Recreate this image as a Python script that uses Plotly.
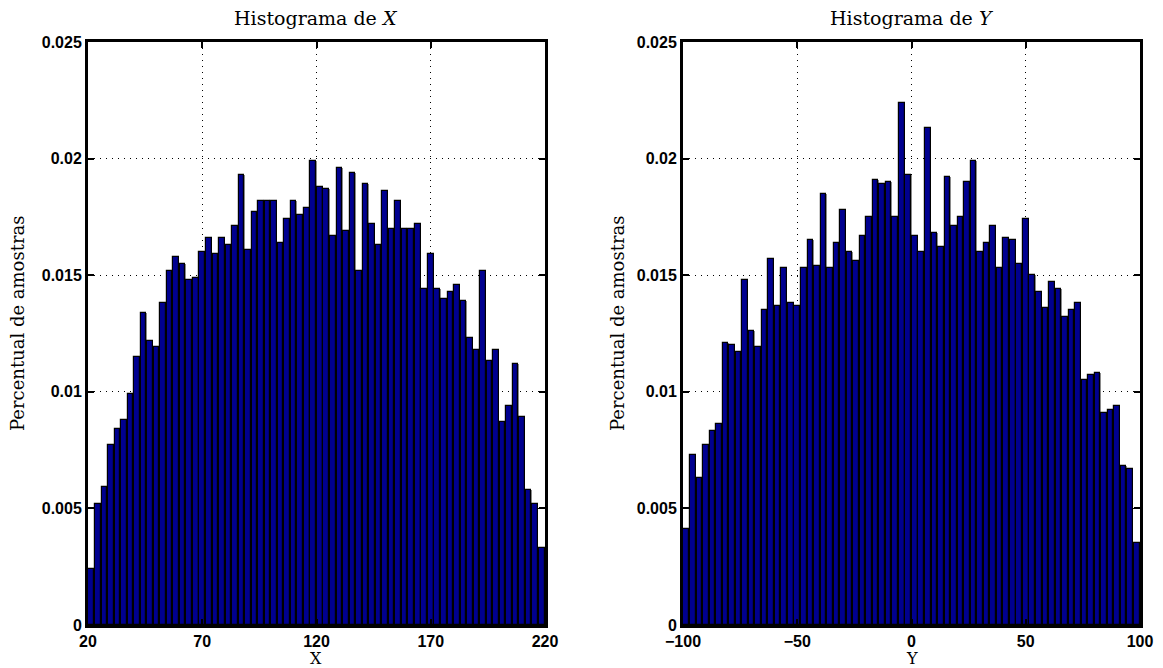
import numpy as np
import plotly.graph_objects as go

# Histogram bin heights (fraction of samples), 70 bins each
x_freq = [0.0024, 0.0052, 0.0059, 0.0077, 0.0084, 0.0088, 0.0099, 0.0115, 0.0134, 0.0122,
          0.0119, 0.0138, 0.0152, 0.0158, 0.0155, 0.0148, 0.0149, 0.0160, 0.0166, 0.0159,
          0.0166, 0.0163, 0.0171, 0.0193, 0.0161, 0.0177, 0.0182, 0.0182, 0.0182, 0.0164,
          0.0174, 0.0182, 0.0176, 0.0179, 0.0199, 0.0188, 0.0187, 0.0167, 0.0196, 0.0169,
          0.0194, 0.0152, 0.0189, 0.0172, 0.0163, 0.0186, 0.0170, 0.0182, 0.0170, 0.0170,
          0.0172, 0.0144, 0.0159, 0.0144, 0.0140, 0.0143, 0.0146, 0.0139, 0.0123, 0.0118,
          0.0152, 0.0113, 0.0118, 0.0087, 0.0094, 0.0112, 0.0089, 0.0058, 0.0052, 0.0033]

y_freq = [0.0041, 0.0073, 0.0063, 0.0077, 0.0083, 0.0086, 0.0121, 0.0120, 0.0117, 0.0148,
          0.0126, 0.0119, 0.0135, 0.0157, 0.0137, 0.0153, 0.0138, 0.0137, 0.0153, 0.0165,
          0.0154, 0.0185, 0.0153, 0.0164, 0.0178, 0.0160, 0.0156, 0.0167, 0.0175, 0.0191,
          0.0189, 0.0190, 0.0175, 0.0224, 0.0193, 0.0167, 0.0160, 0.0213, 0.0168, 0.0162,
          0.0192, 0.0171, 0.0175, 0.0190, 0.0199, 0.0160, 0.0164, 0.0171, 0.0153, 0.0166,
          0.0165, 0.0155, 0.0174, 0.0150, 0.0143, 0.0136, 0.0147, 0.0144, 0.0132, 0.0135,
          0.0138, 0.0105, 0.0107, 0.0108, 0.0091, 0.0092, 0.0094, 0.0068, 0.0067, 0.0035]

x_range = [20, 220]
y_range = [-100, 100]
x_ticks = [20, 70, 120, 170, 220]
y_ticks = [-100, -50, 0, 50, 100]
freq_ticks = [0, 0.005, 0.01, 0.015, 0.02, 0.025]
freq_labels = ["0", "0.005", "0.01", "0.015", "0.02", "0.025"]

W, H = 1163, 668
BAR = "#00008f"
SERIF = "DejaVu Serif"
SANS = "Liberation Sans"


def centers(rng, n):
    w = (rng[1] - rng[0]) / n
    return rng[0] + w * (np.arange(n) + 0.5), w


fig = go.Figure()

panels = [
    (x_freq, x_range, "x", "y"),
    (y_freq, y_range, "x2", "y2"),
]
for freq, rng, xa, ya in panels:
    c, w = centers(rng, len(freq))
    # thin grey seam between adjacent bars
    fig.add_trace(go.Bar(x=c, y=freq, width=w, marker=dict(color="#8a8a8a", line=dict(width=0)),
                         xaxis=xa, yaxis=ya, showlegend=False, hoverinfo="skip"))
    fig.add_trace(go.Bar(x=c, y=freq, width=w * 0.86,
                         marker=dict(color=BAR, line=dict(color="black", width=1.2)),
                         xaxis=xa, yaxis=ya, showlegend=False))

ydom = [1 - 625 / H, 1 - 42 / H]
xdom1 = [88 / W, 545 / W]
xdom2 = [683 / W, 1140 / W]

tickfont = dict(family=SANS, size=16, color="black", weight="bold")
common_axis = dict(
    showline=True, linecolor="black", linewidth=3, mirror="allticks",
    ticks="inside", ticklen=6, tickwidth=2, tickcolor="black",
    showgrid=True, gridcolor="black", griddash="1px,5px", gridwidth=1,
    zeroline=False, tickfont=tickfont, automargin=False,
)

fig.update_layout(
    width=W, height=H,
    margin=dict(l=0, r=0, t=0, b=0),
    paper_bgcolor="white", plot_bgcolor="white",
    barmode="overlay", bargap=0,
    xaxis=dict(domain=xdom1, range=x_range, tickvals=x_ticks, anchor="y", ticklabelstandoff=0,
               **common_axis),
    yaxis=dict(domain=ydom, range=[0, 0.025], tickvals=freq_ticks, ticktext=freq_labels,
               anchor="x", **common_axis),
    xaxis2=dict(domain=xdom2, range=y_range, tickvals=y_ticks, anchor="y2", ticklabelstandoff=0,
                **common_axis),
    yaxis2=dict(domain=ydom, range=[0, 0.025], tickvals=freq_ticks, ticktext=freq_labels,
                anchor="x2", **common_axis),
)

title_font = dict(family=SERIF, size=19, color="black")
label_font = dict(family=SERIF, size=18, color="black")
ann = []
for dom, name in [(xdom1, "X"), (xdom2, "Y")]:
    mid = (dom[0] + dom[1]) / 2
    ann.append(dict(text=f"Histograma de <i>{name}</i>", x=mid, y=1 - 18 / H, xref="paper",
                    yref="paper", showarrow=False, font=title_font,
                    xanchor="center", yanchor="middle"))
    ann.append(dict(text=name, x=mid, y=0, xref="paper", yref="paper", borderpad=0,
                    borderwidth=0, showarrow=False,
                    font=dict(family=SERIF, size=16, color="black"),
                    xanchor="center", yanchor="bottom"))
for xpix in (18, 618):
    ann.append(dict(text="Percentual de amostras", x=xpix / W, y=1 - 323 / H,
                    xref="paper", yref="paper", showarrow=False, textangle=-90,
                    font=label_font, xanchor="center", yanchor="middle"))
fig.update_layout(annotations=ann)

fig.write_html("out.html")
